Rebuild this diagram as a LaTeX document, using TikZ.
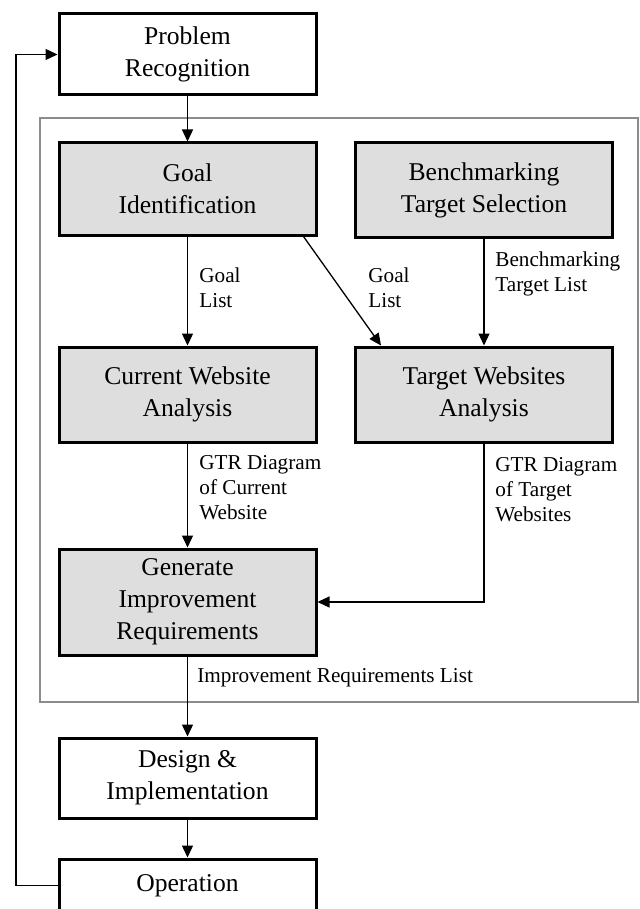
\documentclass[tikz,border=0pt]{standalone}
\usepackage{fontspec}
\setmainfont{Liberation Serif}
\usetikzlibrary{arrows.meta}
\def\boxfont{\fontsize{12.8}{16}\selectfont}
\def\lblfont{\fontsize{10.6}{12.5}\selectfont}

\begin{document}
\begin{tikzpicture}[x=0.5pt, y=-0.5pt,
    stage/.style={draw, line width=1.5pt, minimum width=128.5pt, align=center, font=\boxfont, inner sep=0pt},
    inner/.style={stage, fill=black!13},
    flow/.style={line width=0.65pt, -{Triangle[length=6pt, width=5.5pt]}},
    lbl/.style={anchor=west, align=left, inner sep=0pt, font=\lblfont}]
        \clip (0,0) rectangle (640,909);
        \fill[white] (0,0) rectangle (640,909);
        \draw[black!45, line width=0.75pt] (40,118) rectangle (638,702);
        % boxes
        \node[stage, minimum height=40.5pt] (prob) at (187.5,54.5) {Problem\\Recognition};
        \node[inner, minimum height=46pt] (goal) at (187.5,189) {Goal\\Identification};
        \node[inner, minimum height=47pt] (bench) at (484,190) {Benchmarking\\Target Selection};
        \node[inner, minimum height=47.5pt] (cur) at (187.5,394.5) {Current Website\\Analysis};
        \node[inner, minimum height=47.5pt] (tgt) at (484,394.5) {Target Websites\\Analysis};
        \node[inner, minimum height=53pt] (gen) at (187.5,602) {Generate\\Improvement\\Requirements};
        \node[stage, minimum height=40pt] (des) at (187.5,778) {Design \&\\Implementation};
        \node[stage, minimum height=26.5pt] (op) at (187.5,885.5) {Operation};
        % arrows
        \draw[flow] (prob) -- (goal);
        \draw[flow] (goal) -- (cur);
        \draw[flow] ([xshift=-7pt]goal.south east) -- ([xshift=13.5pt]tgt.north west);
        \draw[flow] (bench) -- (tgt);
        \draw[flow] (cur) -- (gen);
        \draw[flow] (tgt.south) |- (gen.east);
        \draw[flow] (gen) -- (des);
        \draw[flow] (des) -- (op);
        \draw[flow] (op.west) -- (16,885.5) |- (prob.west);
        % labels
        \node[lbl] (l1) at (199,287.5) {Goal\\List};
        \node[lbl] (l2) at (368,287.5) {Goal\\List};
        \node[lbl] (l3) at (495,273.5) {Benchmarking\\Target List};
        \node[lbl] (l4) at (199,488) {GTR Diagram\\of Current\\Website};
        \node[lbl] (l5) at (495,490) {GTR Diagram\\of Target\\Websites};
        \node[lbl] (l6) at (197,678) {Improvement Requirements List};
      \end{tikzpicture}
\end{document}
